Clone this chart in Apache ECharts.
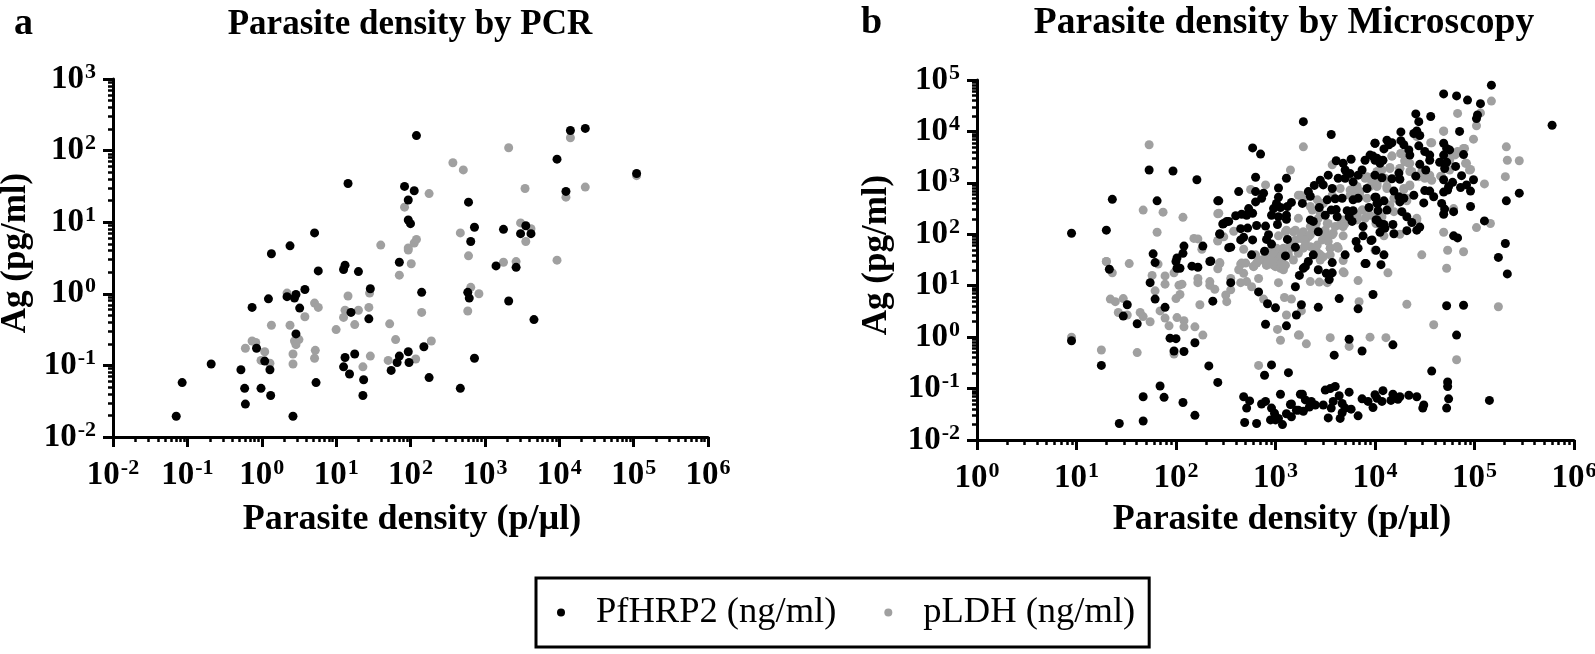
<!DOCTYPE html>
<html>
<head>
<meta charset="utf-8">
<title>Parasite density</title>
<style>
    html, body { margin: 0; padding: 0; background: #fff; }
    #chart { width: 1595px; height: 654px; }
</style>
<script src="https://cdn.jsdelivr.net/npm/echarts@6/dist/echarts.min.js"></script>
</head>
<body>
<div id="chart"></div>
<script>
"use strict";
const pcrHrp2 = [[-1.15,-1.71],[-1.07,-1.24],[-0.68,-0.98],[-0.28,-1.06],[-0.23,-1.32],[-0.22,-1.54],[-0.07,-0.76],[-0.01,-1.32],[0.04,-0.94],[0.11,-1.06],[0.12,-1.42],[-0.13,-0.19],[0.09,-0.07],[0.13,0.56],[0.34,-0.04],[0.38,0.67],[0.44,-0.06],[0.46,-0.01],[0.46,-0.56],[0.42,-1.71],[0.51,-0.20],[0.58,0.06],[0.71,0.85],[0.73,-1.24],[0.76,0.32],[1.10,-1.02],[1.12,-0.89],[1.10,0.34],[1.12,0.40],[1.16,1.54],[1.18,-1.12],[1.20,-0.26],[1.25,-0.84],[1.30,0.31],[1.37,-1.20],[1.36,-1.42],[1.44,-0.35],[1.46,0.07],[1.74,-1.07],[1.82,-0.96],[1.85,-0.87],[1.85,0.44],[1.92,1.50],[1.97,-0.81],[1.98,-0.96],[1.97,1.31],[1.97,1.03],[2.00,0.98],[2.05,1.44],[2.08,2.21],[2.15,0.02],[2.18,-0.74],[2.25,-1.17],[2.67,-1.32],[2.77,0.02],[2.78,1.28],[2.79,-0.06],[2.81,0.73],[2.86,-0.90],[2.86,0.93],[3.15,0.39],[3.25,0.90],[3.32,-0.10],[3.42,0.37],[3.48,0.84],[3.55,0.95],[3.62,0.84],[3.66,-0.36],[3.97,1.88],[4.09,1.43],[4.15,2.28],[4.35,2.31],[5.04,1.68]];
const pcrLdh = [[-0.22,-0.76],[-0.13,-0.66],[-0.08,-0.68],[-0.01,-0.93],[0.04,-0.81],[0.11,-0.97],[0.13,-0.44],[0.34,0.01],[0.38,-0.44],[0.42,-0.84],[0.42,-0.98],[0.44,-0.66],[0.46,-0.71],[0.50,-0.64],[0.58,-0.32],[0.71,-0.13],[0.76,-0.19],[0.72,-0.79],[0.71,-0.90],[1.00,-0.50],[1.10,-0.33],[1.12,-0.23],[1.16,-0.03],[1.25,-0.43],[1.30,-0.23],[1.36,-1.02],[1.44,-0.19],[1.45,0.01],[1.46,-0.87],[1.72,-0.42],[1.70,-0.93],[1.80,-0.64],[1.85,0.26],[1.92,1.21],[1.97,0.64],[1.97,0.61],[2.01,0.42],[2.05,0.71],[2.08,0.76],[2.07,-0.91],[2.15,-0.26],[2.25,1.40],[2.28,-0.66],[1.60,0.68],[2.57,1.83],[2.71,1.73],[2.67,0.85],[2.78,0.53],[2.77,-0.24],[2.81,0.09],[2.92,0.00],[3.25,0.44],[3.32,2.04],[3.42,0.45],[3.48,0.99],[3.54,1.47],[3.55,0.73],[3.62,0.91],[3.97,0.47],[4.09,1.35],[4.15,2.18],[4.35,1.49],[5.04,1.65]];
const microHrp2 = [[0.95,2.02],[1.30,2.08],[1.36,2.68],[1.73,3.25],[1.97,3.23],[2.21,3.06],[1.81,2.65],[2.42,2.65],[2.48,2.21],[2.53,2.25],[2.44,2.01],[2.08,1.77],[2.27,1.77],[1.77,1.62],[2.07,1.63],[2.53,1.74],[2.01,1.54],
    [3.28,4.19],[3.56,3.94],[2.77,3.68],[2.85,3.56],[4.00,3.77],[3.61,3.43],[3.68,3.38],[3.76,3.46],[3.95,3.54],[3.90,3.44],[4.00,3.44],[3.70,3.25],[3.75,3.18],[3.87,3.25],[3.83,3.15],[3.53,3.15],[3.63,3.09],[3.78,3.02],[3.70,3.09],[2.80,3.11],[3.11,3.09],[3.45,3.05],[3.48,2.96],[3.39,2.95],[3.57,2.89],[3.03,2.90],[2.63,2.83],[2.80,2.83],[2.88,2.80],[2.86,2.70],[2.43,2.65],[2.80,2.63],[3.33,2.83],[3.35,2.74],[3.03,2.72],[3.01,2.60],[3.16,2.62],[3.27,2.60],[3.12,2.54],[2.98,2.50],[3.05,2.52],[2.73,2.50],[3.44,2.52],[3.52,2.67],[3.60,2.69],[3.67,2.70],[3.78,2.67],[3.83,2.70],[3.92,2.89],[4.00,2.72],[3.94,2.52],[4.02,2.60],[3.50,2.37],[3.56,2.47],[3.61,2.48],[3.62,2.34],[3.72,2.46],[3.78,2.46],[3.74,2.34],[3.77,2.25],[4.01,2.28],[4.05,2.21],[3.88,2.15],[3.88,1.97],[3.97,1.89],[3.81,1.86],[3.83,1.73],[4.01,1.69],[3.70,1.60],[3.35,2.28],[3.38,2.25],[3.43,2.05],[2.96,2.37],[3.11,2.37],[3.03,2.34],[3.11,2.29],[3.02,2.19],[2.77,2.41],[2.71,2.37],[2.66,2.39],[2.60,2.36],[2.51,2.25],[2.47,2.20],[2.65,2.11],[2.72,2.12],[2.81,2.17],[2.90,2.16],[2.44,2.00],[2.65,1.89],[2.68,1.94],[2.77,1.89],[2.93,1.99],[2.91,1.90],[2.96,1.81],[2.55,1.75],[3.12,1.90],[3.20,1.75],[2.89,1.67],[2.76,1.60],[3.10,1.58],[3.38,1.60],[3.33,1.47],[3.30,1.37],[2.35,1.48],[3.57,1.45],[3.90,1.43],
    [5.17,4.90],[4.69,4.73],[4.82,4.69],[4.93,4.61],[5.06,4.54],[5.03,4.32],[5.02,4.25],[4.41,4.34],[4.44,4.19],[4.56,4.29],[4.85,4.00],[5.78,4.12],[4.26,3.99],[4.39,3.96],[4.42,4.01],[4.45,3.92],[4.00,3.77],[4.12,3.83],[4.17,3.78],[4.14,3.74],[4.09,3.66],[4.26,3.82],[4.29,3.74],[4.34,3.64],[4.35,3.54],[4.44,3.72],[4.50,3.61],[4.55,3.54],[4.55,3.44],[4.69,3.77],[4.72,3.67],[4.75,3.64],[4.69,3.54],[4.89,3.55],[4.65,3.40],[4.72,3.40],[4.70,3.28],[4.81,3.32],[4.87,3.14],[4.45,3.36],[4.51,3.25],[4.41,3.13],[3.98,3.52],[4.02,3.48],[4.08,3.44],[4.05,3.38],[4.00,3.15],[4.07,3.10],[4.17,3.08],[4.24,3.19],[4.25,3.07],[4.69,3.06],[4.78,3.01],[4.99,3.06],[4.74,2.93],[4.69,2.82],[4.73,2.86],[4.86,2.91],[4.92,2.96],[4.96,2.84],[4.19,2.84],[4.50,2.85],[4.55,2.84],[4.59,2.73],[4.39,2.76],[4.24,2.73],[4.29,2.70],[4.25,2.63],[4.01,2.72],[4.09,2.65],[4.03,2.60],[4.49,2.61],[4.67,2.60],[4.70,2.49],[4.69,2.39],[4.79,2.44],[4.96,2.54],[5.45,2.80],[5.32,2.65],[4.12,2.47],[4.03,2.46],[4.27,2.44],[4.32,2.34],[4.37,2.23],[4.02,2.28],[4.09,2.19],[4.18,2.19],[4.10,2.12],[4.05,2.04],[4.19,2.01],[4.32,2.07],[4.45,2.14],[4.42,2.08],[5.10,2.26],[4.79,1.97],[4.83,1.93],[5.31,1.82],[3.96,1.88],[4.09,1.60],[5.24,1.55],
    [1.33,1.32],[1.79,1.45],[2.00,1.47],[2.01,1.34],[2.04,1.34],[2.16,1.38],[2.22,1.36],[2.34,1.47],[1.74,1.06],[2.55,1.06],[1.79,0.74],[2.37,0.70],[2.83,0.88],[3.20,0.98],[2.92,0.65],[3.00,0.57],[1.89,0.58],[1.51,0.63],[1.47,0.41],[1.61,0.26],[3.21,0.43],[2.90,0.25],[3.11,0.22],[1.94,-0.02],[2.00,-0.03],[0.95,-0.07],[2.19,-0.11],[1.98,-0.27],[2.08,-0.28],[1.25,-0.55],[2.33,-0.56],[2.96,-0.54],[2.89,-0.74],[3.13,-0.69],[2.42,-0.88],[1.84,-0.95],[3.05,-1.11],[1.67,-1.16],[1.88,-1.17],[2.07,-1.27],[2.68,-1.16],[2.74,-1.24],[2.71,-1.38],[2.19,-1.52],[1.67,-1.63],[1.43,-1.68],[2.69,-1.66],[2.81,-1.68],[2.86,-1.30],[2.90,-1.25],[2.96,-1.38],[2.95,-1.61],[2.99,-1.48],[3.03,-1.58],[3.07,-1.70],[3.11,-1.49],[3.15,-1.31],[3.21,-1.42],[3.00,-1.61],[3.25,-1.11],
    [5.33,1.23],[3.91,1.43],[4.06,1.41],[3.28,1.34],[3.24,1.20],[3.43,1.31],[3.51,1.24],[3.57,1.25],[3.54,1.12],[3.98,0.83],[3.64,0.75],[3.26,0.63],[3.43,0.58],[3.83,0.55],[4.72,0.61],[4.89,0.62],[4.82,0.04],[3.74,-0.04],[4.18,-0.15],[3.87,-0.27],[3.59,-0.35],[4.57,-0.66],[4.73,-0.87],[4.73,-0.96],[4.74,-1.20],[4.72,-1.38],[5.15,-1.23],[3.60,-0.96],[3.55,-1.00],[3.50,-1.03],[3.74,-1.07],[4.08,-1.04],[3.27,-1.11],[3.64,-1.14],[3.30,-1.22],[3.36,-1.25],[3.16,-1.30],[3.40,-1.32],[3.48,-1.32],[3.34,-1.36],[3.58,-1.25],[3.56,-1.38],[3.67,-1.29],[3.70,-1.38],[3.76,-1.40],[3.67,-1.47],[3.53,-1.57],[3.65,-1.58],[3.83,-1.53],[3.28,-1.44],[3.23,-1.42],[3.16,-1.55],[3.87,-1.20],[3.93,-1.25],[3.98,-1.37],[4.00,-1.12],[4.02,-1.19],[4.07,-1.25],[4.16,-1.23],[4.18,-1.11],[4.23,-1.21],[4.25,-1.16],[4.34,-1.13],[4.42,-1.16],[4.49,-1.32],[4.48,-1.38]];
const microLdh = [[1.73,3.74],[1.67,2.47],[1.87,2.43],[2.07,2.33],[2.42,2.40],[1.81,2.04],[2.18,1.92],[2.22,1.91],[2.42,1.87],[2.48,1.95],[2.26,1.71],[1.30,1.47],
    [3.28,3.70],[3.15,3.25],[2.90,2.96],[2.75,2.87],[2.43,2.41],[2.58,2.06],[2.42,1.88],[3.25,2.76],[3.57,3.35],[3.65,2.89],[3.03,1.97],[2.68,1.71],[2.66,1.44],[2.44,1.43],[3.68,2.16],[3.68,1.97],[3.62,1.76],[3.10,2.05],[3.18,2.05],[3.26,1.98],[3.33,1.95],[3.20,1.89],[3.30,1.86],[3.35,1.76],[3.42,1.79],[3.50,1.95],[3.57,1.99],[3.60,2.15],[3.50,2.08],[3.28,1.73],[3.23,1.63],[3.16,1.73],[3.03,1.66],[2.98,1.60],[2.93,1.53],[3.00,1.47],[3.06,1.47],[2.91,1.40],[3.00,1.37],[2.85,1.50],[2.78,1.37],[3.45,1.60],[3.55,1.73],[3.63,1.73],[3.47,1.89],[3.53,1.86],[3.37,2.08],[3.23,2.31],[3.35,2.54],[3.43,2.31],[3.68,2.28],[3.82,2.28],[3.88,2.47],[3.85,2.73],[3.92,3.12],[3.98,3.12],[4.02,2.99],[3.95,2.93],[3.82,2.83],[3.75,2.76],[3.70,2.21],[3.82,2.37],[3.95,2.37],[4.02,2.34],[3.35,2.15],[3.41,2.21],[3.52,2.21],
    [5.17,4.59],[4.83,4.35],[5.06,4.36],[5.02,4.11],[4.69,4.00],[4.56,3.78],[4.99,3.85],[5.32,3.70],[5.33,3.44],[5.45,3.43],[5.31,3.12],[5.10,2.98],[4.17,3.52],[4.26,3.57],[4.89,3.67],[4.80,3.54],[4.83,3.61],[4.75,3.44],[4.91,3.38],[4.96,3.26],[4.66,3.13],[4.55,3.09],[4.50,3.12],[4.35,3.38],[4.37,3.22],[4.30,3.44],[4.15,3.30],[4.25,3.28],[4.02,3.22],[4.10,3.09],[3.97,3.02],[4.02,2.96],[4.12,2.93],[4.35,2.94],[4.29,2.87],[4.32,2.65],[4.19,2.70],[4.79,2.50],[4.42,2.31],[4.19,2.44],[4.07,2.34],[4.01,2.21],[4.09,1.97],[4.25,2.00],[5.16,2.21],[5.02,2.13],[4.69,2.04],[4.00,1.69],[4.47,1.60],[4.73,1.69],[4.89,1.66],[4.42,3.90],
    [1.82,1.42],[1.76,1.20],[1.89,1.19],[1.98,1.25],[1.89,1.03],[2.03,1.01],[2.06,1.03],[1.79,0.90],[2.22,1.14],[2.22,1.06],[2.34,1.08],[2.34,1.01],[2.39,0.93],[2.44,1.45],[2.42,1.33],[2.55,1.14],[2.55,0.92],[2.50,0.82],[2.51,0.69],[2.24,0.63],[2.04,0.83],[2.00,0.75],[2.65,1.06],[2.71,1.08],[2.76,0.98],[2.68,1.24],[2.63,1.31],[2.65,1.42],[2.78,1.38],[2.83,1.14],[2.81,1.44],[2.91,1.42],[2.98,1.40],[3.05,1.34],[3.10,1.40],[3.03,1.06],[2.88,0.74],[3.09,0.77],[3.16,0.74],[3.11,0.43],[3.02,0.15],[3.05,-0.06],[3.23,0.04],[1.30,1.47],[1.36,1.25],[1.53,1.43],[1.34,0.74],[1.39,0.69],[1.47,0.75],[1.42,0.48],[1.51,0.43],[1.64,0.48],[1.67,0.40],[1.74,0.30],[1.84,0.51],[1.89,0.37],[2.01,0.38],[2.08,0.32],[1.93,0.22],[2.08,0.20],[2.19,0.20],[2.27,0.04],[0.95,0.00],[1.25,-0.25],[1.61,-0.30],[1.98,-0.33],[2.83,-0.55],
    [4.72,1.34],[4.13,1.25],[3.69,1.25],[3.83,1.10],[3.35,1.08],[3.44,1.07],[3.52,1.06],[3.68,1.49],[3.45,1.50],[3.84,0.69],[4.32,0.64],[3.26,0.51],[5.24,0.59],[4.59,0.24],[3.24,0.04],[3.31,-0.13],[3.55,-0.01],[3.95,0.00],[4.11,-0.01],[3.74,-0.18],[4.82,-0.44],
    [3.11,2.08],[3.20,2.08],[3.28,2.05],[3.35,1.99],[3.25,1.92],[3.30,1.79],[3.23,1.69],[3.15,1.79],[3.08,1.73],[3.01,1.73],[2.95,1.69],[2.90,1.56],[2.98,1.60],[3.05,1.56],[3.13,1.60],[2.98,1.47],[3.06,1.44],[2.91,1.40],[2.81,1.44],[2.80,1.60],[3.18,1.50],[3.38,1.73],[3.43,1.63],[3.48,1.56],[3.55,1.73],[3.50,1.99],[3.58,2.02],[3.53,2.21],[3.65,2.18],[3.40,2.12],[3.37,2.47],[3.42,2.67],[3.30,2.73],[3.23,2.76],[3.45,2.41],[3.68,2.15],[3.62,1.76],[3.55,1.60],[3.68,1.27],[3.45,1.53],[2.70,1.44],[3.08,1.31],[3.48,2.60],[3.57,2.76],[3.75,2.86],[3.82,2.93],
    [4.17,3.52],[4.26,3.57],[4.15,3.28],[4.07,3.25],[4.34,3.38],[4.35,3.22],[4.44,3.12],[4.50,3.09],[4.57,3.05],[4.55,3.15],[4.30,3.41],[4.25,3.28],[3.97,3.02],[3.90,3.09],[4.02,2.93],[4.12,2.89],[3.85,2.83],[3.92,2.70],[4.29,2.89],[4.35,2.96],[4.67,3.12],[4.75,3.25],[4.82,3.57],[4.90,3.67],[4.75,3.48],[4.92,3.38],[4.95,3.25],[3.87,2.47],[3.90,2.31],[4.15,2.57],[4.42,2.28],[4.47,3.22],[4.32,2.70],[4.69,4.01],[4.57,3.78]];

const pcrXDecades = [-2, -1, 0, 1, 2, 3, 4, 5, 6];
const pcrYDecades = [-2, -1, 0, 1, 2, 3];
const microXDecades = [0, 1, 2, 3, 4, 5, 6];
const microYDecades = [-2, -1, 0, 1, 2, 3, 4, 5];
const seriesNames = ['PfHRP2 (ng/ml)', 'pLDH (ng/ml)'];
const SERIF = '"Liberation Serif", "Times New Roman", serif';

function toValues(pairs) {
    return pairs.map(p => [Math.pow(10, p[0]), Math.pow(10, p[1])]);
}
function majors(decades) {
    return decades.map(d => Math.pow(10, d));
}
function minors(decades) {
    let out = [];
    for (let i = 0; i < decades.length - 1; ++i) {
        for (let k = 2; k < 10; ++k) {
            out.push(k * Math.pow(10, decades[i]));
        }
    }
    return out;
}
function makeAxis(gridIndex, decades, isX, name, nameGap, namePadding) {
    let first = Math.pow(10, decades[0]);
    let last = Math.pow(10, decades[decades.length - 1]);
    let side = isX ? 'bottom' : 'left';
    let major = {
        type: 'log',
        gridIndex: gridIndex,
        position: side,
        min: first,
        max: last,
        name: name,
        nameLocation: 'middle',
        nameGap: nameGap,
        nameTextStyle: { fontFamily: SERIF, fontWeight: 'bold', fontSize: isX ? 36 : 35, color: '#000', padding: namePadding },
        splitLine: { show: false },
        axisLine: { show: true, onZero: false, lineStyle: { color: '#000', width: 3 } },
        axisTick: { show: true, length: 10, lineStyle: { color: '#000', width: 3 }, customValues: majors(decades) },
        axisLabel: {
            show: true,
            margin: isX ? 20 : 17,
            customValues: majors(decades),
            hideOverlap: false,
            formatter: v => '{b|10}{s|' + Math.round(Math.log10(v)) + '}',
            rich: {
                b: { fontFamily: SERIF, fontWeight: 'bold', fontSize: 33, color: '#000' },
                s: { fontFamily: SERIF, fontWeight: 'bold', fontSize: 22, color: '#000', padding: [0, 0, 14, 1] }
            }
        }
    };
    let minor = {
        type: 'log',
        gridIndex: gridIndex,
        position: side,
        min: first,
        max: last,
        splitLine: { show: false },
        axisLine: { show: false, onZero: false },
        axisTick: { show: true, length: 5, lineStyle: { color: '#000', width: 2.5 }, customValues: minors(decades) },
        axisLabel: { show: false }
    };
    return [major, minor];
}
function makeSeries(name, pairs, color, xAxisIndex, yAxisIndex, z) {
    return {
        name: name,
        type: 'scatter',
        xAxisIndex: xAxisIndex,
        yAxisIndex: yAxisIndex,
        symbol: 'circle',
        symbolSize: 9,
        z: z,
        itemStyle: { color: color, opacity: 1 },
        data: toValues(pairs)
    };
}

let chart = echarts.init(document.getElementById('chart'));
chart.setOption({
    animation: false,
    backgroundColor: '#fff',
    title: [
        { text: 'Parasite density by PCR', left: 405, top: 2, textAlign: 'center', textStyle: { fontFamily: SERIF, fontWeight: 'bold', fontSize: 35, color: '#000' } },
        { text: 'Parasite density by Microscopy', left: 1279, top: -1, textAlign: 'center', textStyle: { fontFamily: SERIF, fontWeight: 'bold', fontSize: 37.5, color: '#000' } },
        { text: 'a', left: 9, top: 0, textStyle: { fontFamily: SERIF, fontWeight: 'bold', fontSize: 38, color: '#000' } },
        { text: 'b', left: 856, top: -1, textStyle: { fontFamily: SERIF, fontWeight: 'bold', fontSize: 38, color: '#000' } }
    ],
    legend: {
        left: 536,
        top: 578,
        padding: [16, 14, 16, 21],
        data: seriesNames,
        orient: 'horizontal',
        icon: 'circle',
        itemWidth: 8,
        itemHeight: 8,
        itemGap: 48,
        selectedMode: false,
        borderColor: '#000',
        borderWidth: 3,
        textStyle: { fontFamily: SERIF, fontSize: 36.5, color: '#000', padding: [0, 0, 0, 26] }
    },
    grid: [
        { left: 113, top: 79, width: 595, height: 358, outerBoundsMode: 'none' },
        { left: 977, top: 80, width: 597, height: 360, outerBoundsMode: 'none' }
    ],
    xAxis: [
        ...makeAxis(0, pcrXDecades, true, 'Parasite density (p/µl)', 65, [0, 0, 0, 3]),
        ...makeAxis(1, microXDecades, true, 'Parasite density (p/µl)', 62, [0, 0, 0, 13])
    ],
    yAxis: [
        ...makeAxis(0, pcrYDecades, false, 'Ag (pg/ml)', 80, [0, 0, 0, 10]),
        ...makeAxis(1, microYDecades, false, 'Ag (pg/ml)', 83, [0, 0, 0, 10])
    ],
    series: [
        makeSeries(seriesNames[1], pcrLdh, '#a0a0a0', 0, 0, 2),
        makeSeries(seriesNames[0], pcrHrp2, '#000', 0, 0, 3),
        makeSeries(seriesNames[1], microLdh, '#a0a0a0', 2, 2, 2),
        makeSeries(seriesNames[0], microHrp2, '#000', 2, 2, 3)
    ]
});
</script>
</body>
</html>
